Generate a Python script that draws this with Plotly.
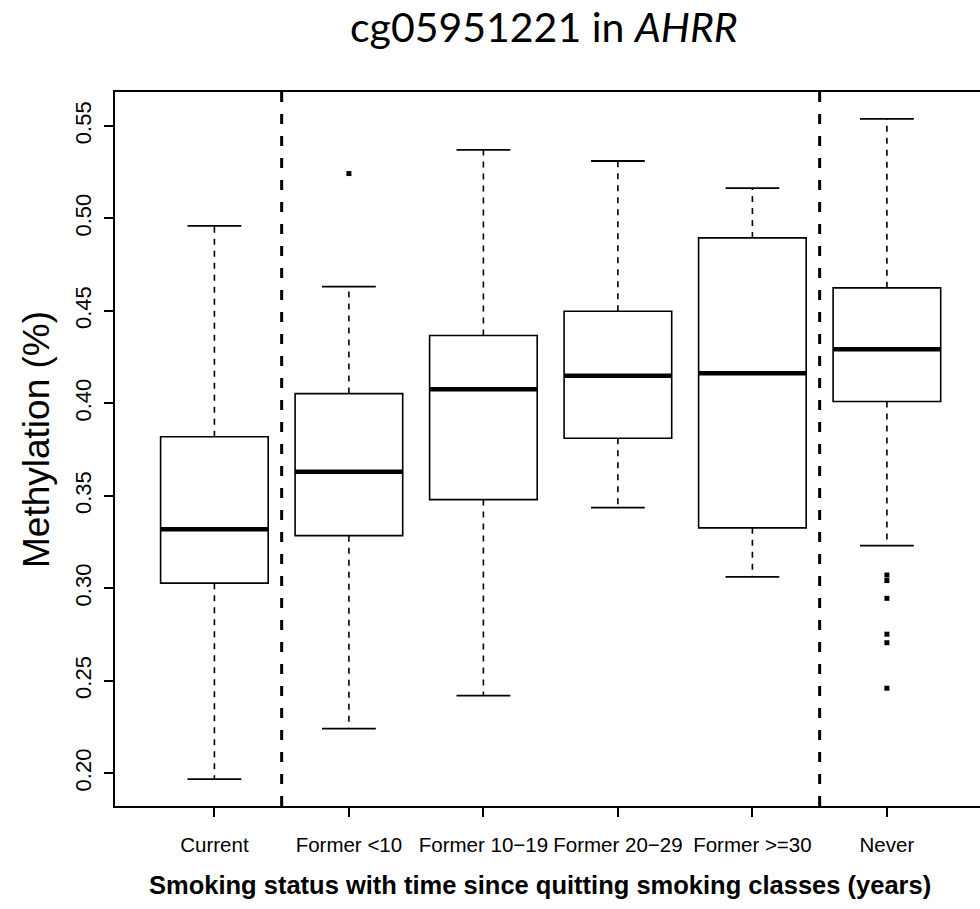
import plotly.graph_objects as go

# ---- data ----
categories = ["Current", "Former <10", "Former 10\u221219", "Former 20\u221229", "Former >=30", "Never"]
lower_whisker = [0.1968, 0.2241, 0.2420, 0.3436, 0.3062, 0.3231]
q1_values = [0.3028, 0.3285, 0.3480, 0.3812, 0.3327, 0.4010]
median_values = [0.3320, 0.3631, 0.4077, 0.4150, 0.4163, 0.4293]
q3_values = [0.3820, 0.4053, 0.4367, 0.4498, 0.4895, 0.4625]
upper_whisker = [0.4960, 0.4632, 0.5371, 0.5311, 0.5164, 0.5539]
outliers = [[], [0.5243], [], [], [], [0.3072, 0.3042, 0.2946, 0.2752, 0.2706, 0.2460]]
y_tick_values = [0.20, 0.25, 0.30, 0.35, 0.40, 0.45, 0.50, 0.55]
y_tick_labels = ["0.20", "0.25", "0.30", "0.35", "0.40", "0.45", "0.50", "0.55"]
separator_after = [1, 5]  # dashed lines between groups (after 1st and 5th group)

positions = list(range(1, len(categories) + 1))
BOX_W = 0.8
CAP_W = 0.4

fig = go.Figure()

for i, pos in enumerate(positions):
    fig.add_trace(go.Box(
        x=[pos], q1=[q1_values[i]], median=[median_values[i]], q3=[q3_values[i]],
        lowerfence=[q1_values[i]], upperfence=[q3_values[i]],
        width=BOX_W, whiskerwidth=0, boxpoints=False,
        fillcolor="white", line=dict(color="black", width=1.6),
        showlegend=False, hoverinfo="skip",
    ))

# dashed whiskers
wx, wy = [], []
for i, pos in enumerate(positions):
    wx += [pos, pos, None, pos, pos, None]
    wy += [q3_values[i], upper_whisker[i], None, q1_values[i], lower_whisker[i], None]
fig.add_trace(go.Scatter(x=wx, y=wy, mode="lines",
                         line=dict(color="black", width=1.6, dash="6px,6px"),
                         showlegend=False, hoverinfo="skip"))

# whisker caps
cx, cy = [], []
for i, pos in enumerate(positions):
    for v in (upper_whisker[i], lower_whisker[i]):
        cx += [pos - CAP_W / 2, pos + CAP_W / 2, None]
        cy += [v, v, None]
fig.add_trace(go.Scatter(x=cx, y=cy, mode="lines",
                         line=dict(color="black", width=1.8),
                         showlegend=False, hoverinfo="skip"))

# thick medians
mx, my = [], []
for i, pos in enumerate(positions):
    mx += [pos - BOX_W / 2, pos + BOX_W / 2, None]
    my += [median_values[i], median_values[i], None]
fig.add_trace(go.Scatter(x=mx, y=my, mode="lines",
                         line=dict(color="black", width=4.5),
                         showlegend=False, hoverinfo="skip"))

# outliers
ox, oy = [], []
for i, pos in enumerate(positions):
    for v in outliers[i]:
        ox.append(pos)
        oy.append(v)
fig.add_trace(go.Scatter(x=ox, y=oy, mode="markers",
                         marker=dict(color="black", size=5, symbol="square"),
                         showlegend=False, hoverinfo="skip"))

# dashed separators
for k in separator_after:
    fig.add_shape(type="line", xref="x", yref="paper",
                  x0=k + 0.5, x1=k + 0.5, y0=0, y1=1,
                  line=dict(color="black", width=3, dash="10px,12px"))

px_per_unit = 134.5
x0 = 0.261
fig.update_layout(
    width=980, height=909,
    margin=dict(l=115, r=0, t=92, b=103),
    paper_bgcolor="white", plot_bgcolor="white",
    font=dict(family="Liberation Sans, Arial, sans-serif", color="black"),
    title=dict(text="cg05951221 in <i>AHRR</i>",
               font=dict(family="Lato, Carlito, sans-serif", size=41, color="black"),
               xref="container", x=0.555, xanchor="center",
               yref="container", y=1 - 28 / 909, yanchor="middle"),
    xaxis=dict(range=[x0, x0 + 865 / px_per_unit], showgrid=False, zeroline=False,
               showline=True, linecolor="black", linewidth=1.6, mirror=True,
               tickmode="array", tickvals=positions, ticktext=categories,
               ticks="outside", ticklen=9, tickwidth=1.5, tickcolor="black",
               tickfont=dict(size=20.5, family="Liberation Sans, Arial, sans-serif"),
               ticklabelstandoff=11),
    yaxis=dict(range=[0.1823, 0.5684], showgrid=False, zeroline=False,
               showline=True, linecolor="black", linewidth=1.6,
               tickmode="array", tickvals=y_tick_values, ticktext=y_tick_labels,
               ticks="outside", ticklen=9, tickwidth=1.5, tickcolor="black",
               tickangle=-90, tickfont=dict(size=22),
               ticklabelstandoff=4),
    annotations=[
        dict(text="Methylation (%)", textangle=-90, showarrow=False,
             xref="paper", yref="paper",
             x=(36 - 115) / 865, y=(806 - 440) / 714,
             xanchor="center", yanchor="middle",
             font=dict(size=37, color="black")),
        dict(text="<b>Smoking status with time since quitting smoking classes (years)</b>",
             showarrow=False, xref="paper", yref="paper",
             x=(540 - 115) / 865, y=(806 - 885) / 714,
             xanchor="center", yanchor="middle",
             font=dict(size=25.5, color="black")),
    ],
)

fig.write_html("out.html", config={"displayModeBar": False},
               post_script="document.body.style.margin='0';document.body.style.overflow='hidden';")
